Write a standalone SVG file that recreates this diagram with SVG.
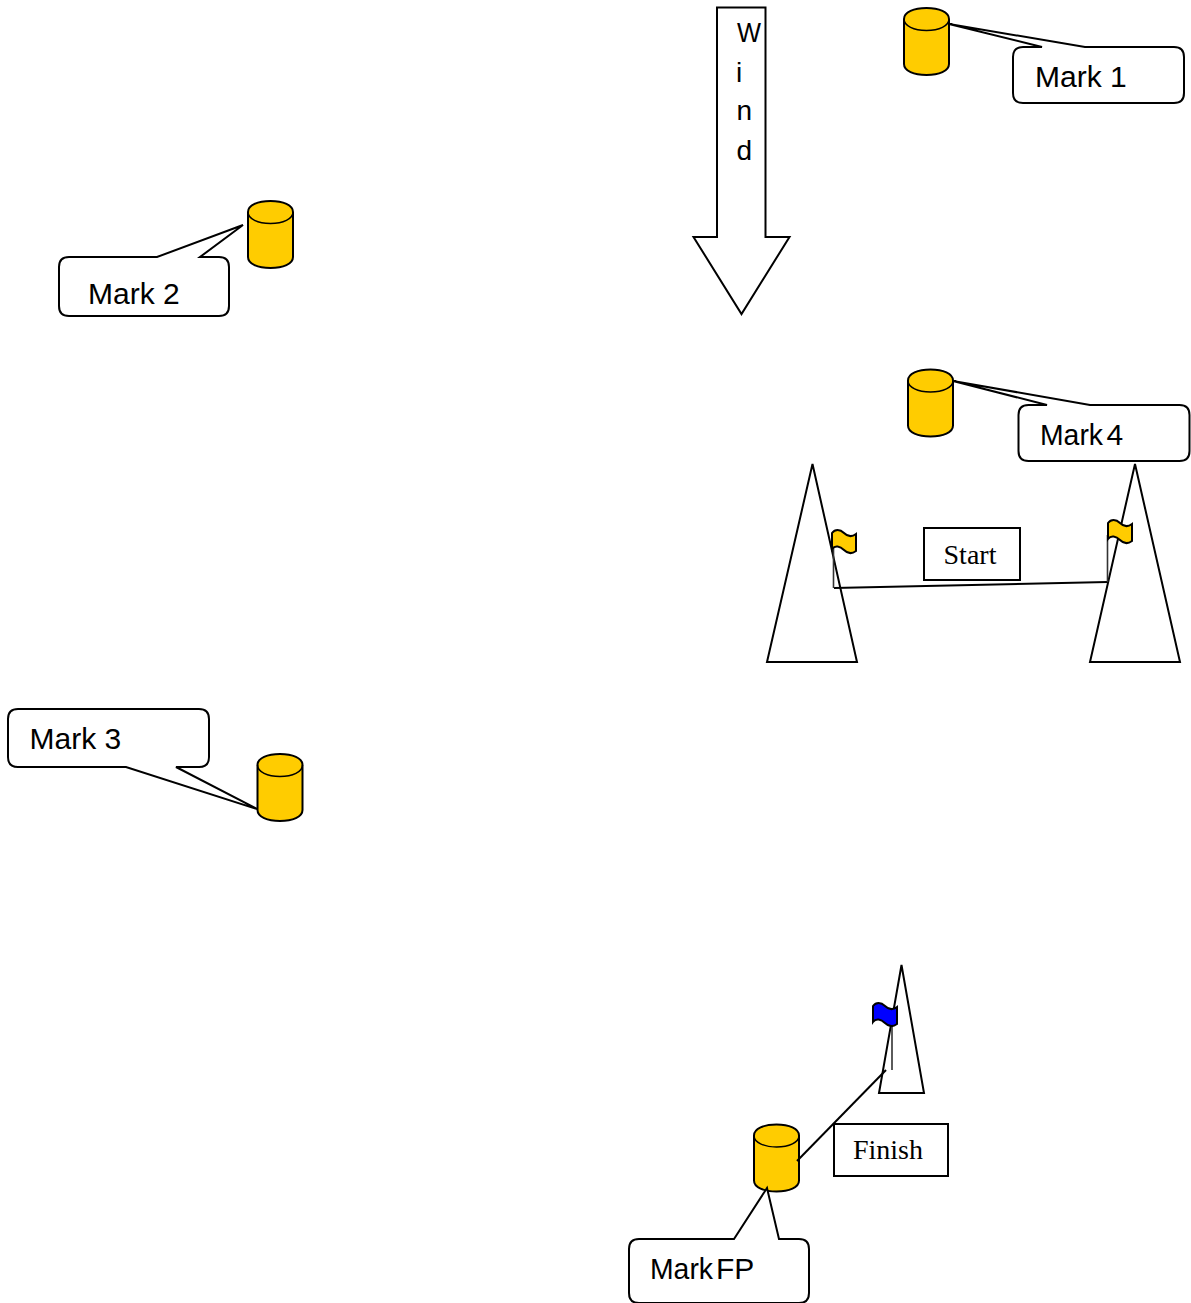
<svg xmlns="http://www.w3.org/2000/svg" xmlns:xlink="http://www.w3.org/1999/xlink" width="1191" height="1303" viewBox="0 0 1191 1303">
<style>
.s{fill:#fff;stroke:#000;stroke-width:2;stroke-linejoin:miter}
.c{fill:#fc0;stroke:#000;stroke-width:2}
.t{font-family:"Liberation Sans",Arial,sans-serif;font-size:30px;fill:#000}
.w{font-family:"Liberation Sans",Arial,sans-serif;font-size:28px;fill:#000}
.r{font-family:"Liberation Serif","Times New Roman",serif;font-size:28px;fill:#000;text-anchor:middle}
.pole{fill:none;stroke:#333;stroke-width:1.600}
.l{fill:none;stroke:#000;stroke-width:2}
</style>
<defs>
<g id="can">
<path class="c" d="M0 11C0 4 10 0 22.500 0S45 4 45 11V56C45 63 35 67 22.500 67S0 63 0 56Z"/>
<path fill="none" stroke="#000" stroke-width="1.500" d="M0 11C0 18 10 22.500 22.500 22.500S45 18 45 11"/>
</g>
<path id="flag" stroke="#000" stroke-width="2" d="M0 3C3-1 8-1 12 3S20 7 24 4V21C20 24 16 24 12 20S3 15 0 19Z"/>
</defs>
<g id="wind">
<path class="s" d="M717 7.500H765.500V237H789.500L741.500 314 693.500 237H717Z"/>
<text class="w" x="737" y="42" textLength="24" lengthAdjust="spacingAndGlyphs">W</text>
<text class="w" x="736" y="82">i</text>
<text class="w" x="736.500" y="120">n</text>
<text class="w" x="736.500" y="160">d</text>
</g>
<g id="mark1">
<use xlink:href="#can" href="#can" x="904" y="8"/>
<path class="s" d="M1023 47H1042L949 24 1085 47H1174Q1184 47 1184 57V93Q1184 103 1174 103H1023Q1013 103 1013 93V57Q1013 47 1023 47Z"/>
<text class="t" x="1035" y="87">Mark 1</text>
</g>
<g id="mark2">
<use xlink:href="#can" href="#can" x="248" y="201"/>
<path class="s" d="M69 257H157L243 225 200 257H219Q229 257 229 267V306Q229 316 219 316H69Q59 316 59 306V267Q59 257 69 257Z"/>
<text class="t" x="88" y="304">Mark 2</text>
</g>
<g id="mark3">
<use xlink:href="#can" href="#can" x="257.500" y="754"/>
<path class="s" d="M18 709H199Q209 709 209 719V757Q209 767 199 767H176L257 809 126 767H18Q8 767 8 757V719Q8 709 18 709Z"/>
<text class="t" x="29.500" y="749">Mark 3</text>
</g>
<g id="mark4">
<use xlink:href="#can" href="#can" x="908" y="369.500"/>
<path class="s" d="M1028.500 405H1047L953 381 1090 405H1179.500Q1189.500 405 1189.500 415V451Q1189.500 461 1179.500 461H1028.500Q1018.500 461 1018.500 451V415Q1018.500 405 1028.500 405Z"/>
<text class="t" x="1040" y="445" textLength="63" lengthAdjust="spacingAndGlyphs">Mark</text><text class="t" x="1106.500" y="445">4</text>
</g>
<g id="start-left">
<path class="s" d="M812.500 464 857 662H767Z"/>
</g>
<g id="start-right">
<path class="s" d="M1135 464 1180 662H1090Z"/>
</g>
<g id="start-label">
<rect class="s" x="924" y="528" width="96" height="52"/>
<text class="r" x="970" y="564">Start</text>
</g>
<g id="finish-cone">
<path class="s" d="M901.500 965 924 1093H879Z"/>
</g>
<g id="finish-label">
<rect class="s" x="834" y="1124" width="114" height="52"/>
<text class="r" x="888" y="1159">Finish</text>
</g>
<g id="markfp">
<use xlink:href="#can" href="#can" x="754" y="1124.500"/>
<path class="s" d="M639 1239H734L767 1188 779 1239H799Q809 1239 809 1249V1293Q809 1303 799 1303H639Q629 1303 629 1293V1249Q629 1239 639 1239Z"/>
<text class="t" x="650" y="1279" textLength="63" lengthAdjust="spacingAndGlyphs">Mark</text><text class="t" x="716" y="1279">FP</text>
</g>
<g id="connectors">
<path class="l" d="M834 588 1107.500 582"/>
<path class="pole" d="M833.500 545V588M1107.500 535V582"/>
<path class="pole" stroke-width="2" d="M892 1026V1070"/>
<path class="l" d="M886 1070 797 1161"/>
</g>
<g id="flag-left"><use xlink:href="#flag" href="#flag" x="832" y="530" fill="#fc0"/></g>
<g id="flag-right"><use xlink:href="#flag" href="#flag" x="1108" y="520" fill="#fc0"/></g>
<g id="flag-finish"><use xlink:href="#flag" href="#flag" x="873" y="1003" fill="#00f"/></g>
</svg>
